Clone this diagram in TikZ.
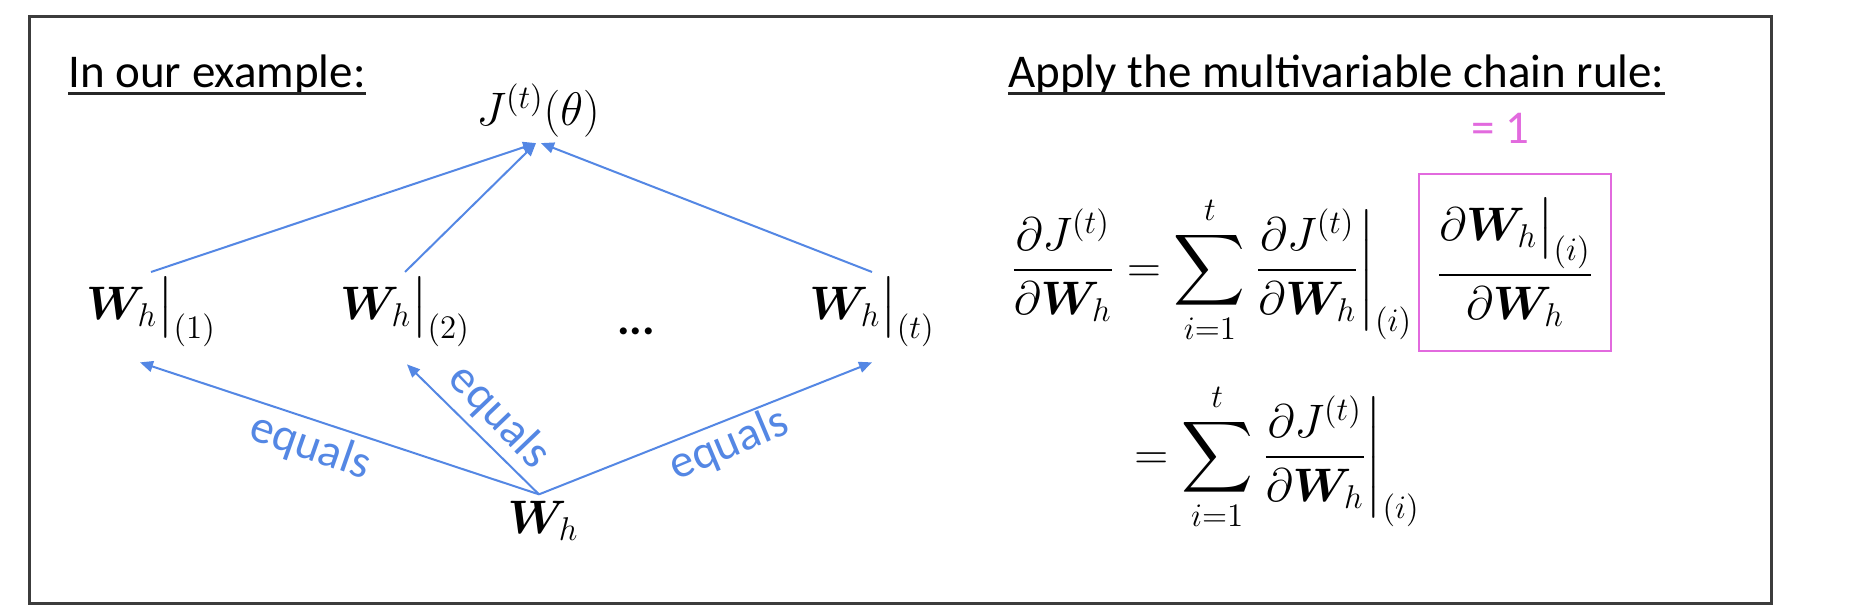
\RequirePackage{fix-cm}
\documentclass[tikz,border=0pt]{standalone}
\usepackage{amsmath}
\usepackage{bm}
\usepackage[no-math]{fontspec}
\setmainfont{Carlito}
\usetikzlibrary{arrows.meta}
\definecolor{eqblue}{RGB}{84,135,228}
\definecolor{boxpink}{RGB}{226,106,222}
\definecolor{framegray}{RGB}{60,60,60}
\newcommand{\bigfont}{\fontsize{23.5}{28}\selectfont}
\newcommand{\lblfont}{\fontsize{23.5}{28}\selectfont}
\begin{document}
\begin{tikzpicture}[x=0.5pt,y=-0.5pt,
  txt/.style={font=\bigfont, inner sep=0pt},
  mth/.style={font=\bigfont, inner sep=2.5pt},
  arr/.style={draw=eqblue, line width=1pt, -{Triangle[length=6.5pt,width=5.5pt]}},
  lbl/.style={font=\lblfont, text=eqblue, inner sep=0pt},
  ul/.style={line width=1.4pt, draw=black!85},
  frame/.style={draw=framegray, line width=1.5pt},
  pinkbox/.style={draw=boxpink, line width=1pt, minimum width=96pt, minimum height=88.5pt, inner sep=0pt}
]
\useasboundingbox (0,0) rectangle (1872,610);
\fill[white] (0,0) rectangle (1872,610);
\draw[frame] (29,17) rectangle (1771,603);

% titles
\node[txt, anchor=base west] (t1) at (68,88) {In our example:};
\node[txt, anchor=base west] (t2) at (1008,88) {Apply the multivariable chain rule:};
\draw[ul] ([yshift=-2.7pt]t1.base west) -- ([yshift=-2.7pt]t1.base east);
\draw[ul] ([yshift=-2.7pt]t2.base west) -- ([yshift=-2.7pt]t2.base east);

% graph
\node[mth, anchor=base] (J) at (538,126) {$J^{(t)}(\theta)$};
\node[mth, anchor=base] (w1) at (151,319) {$\bm{W}_h\big|_{(1)}$};
\node[mth, anchor=base] (w2) at (405,319) {$\bm{W}_h\big|_{(2)}$};
\node[txt, anchor=base, font=\bigfont\bfseries] (dots) at (636,334) {...};
\node[mth, anchor=base] (wt) at (872,319) {$\bm{W}_h\big|_{(t)}$};
\node[mth, anchor=base, inner sep=3pt] (wb) at (543,533) {$\bm{W}_h$};

\draw[arr] (w1.north) -- ([xshift=-1pt]J.south);
\draw[arr] (w2.north) -- ([xshift=-1pt]J.south);
\draw[arr] (wt.north) -- ([xshift=1.5pt]J.south);

\draw[arr] ([xshift=-2pt]wb.north) -- ([xshift=-5.5pt,yshift=-5pt]w1.south);
\draw[arr] ([xshift=-2pt]wb.north) -- ([xshift=1pt,yshift=-6pt]w2.south);
\draw[arr] ([xshift=-2pt]wb.north) -- ([yshift=-5pt]wt.south);

\node[lbl, rotate=-19.3] (e1) at (310,447) {equals};
\node[lbl, rotate=-46.3] (e2) at (499,417) {equals};
\node[lbl, rotate=22.8] (e3) at (729,445) {equals};

% equations
\node[txt, anchor=base west] (eq1) at (1011,282)
  {$\displaystyle \frac{\partial J^{(t)}}{\partial \bm{W}_h} = \sum_{i=1}^{t} \left.\frac{\partial J^{(t)}}{\partial \bm{W}_h}\right|_{(i)}$};
\node[pinkbox, font=\bigfont] (box) at (1515,262.5)
  {$\displaystyle \frac{\partial \bm{W}_h\big|_{(i)}}{\partial \bm{W}_h}$};
\node[txt, anchor=base, text=boxpink] (one) at (1500,143) {= 1};
\node[txt, anchor=base west] (eq2) at (1134,469)
  {$\displaystyle = \sum_{i=1}^{t} \left.\frac{\partial J^{(t)}}{\partial \bm{W}_h}\right|_{(i)}$};
\end{tikzpicture}
\end{document}
